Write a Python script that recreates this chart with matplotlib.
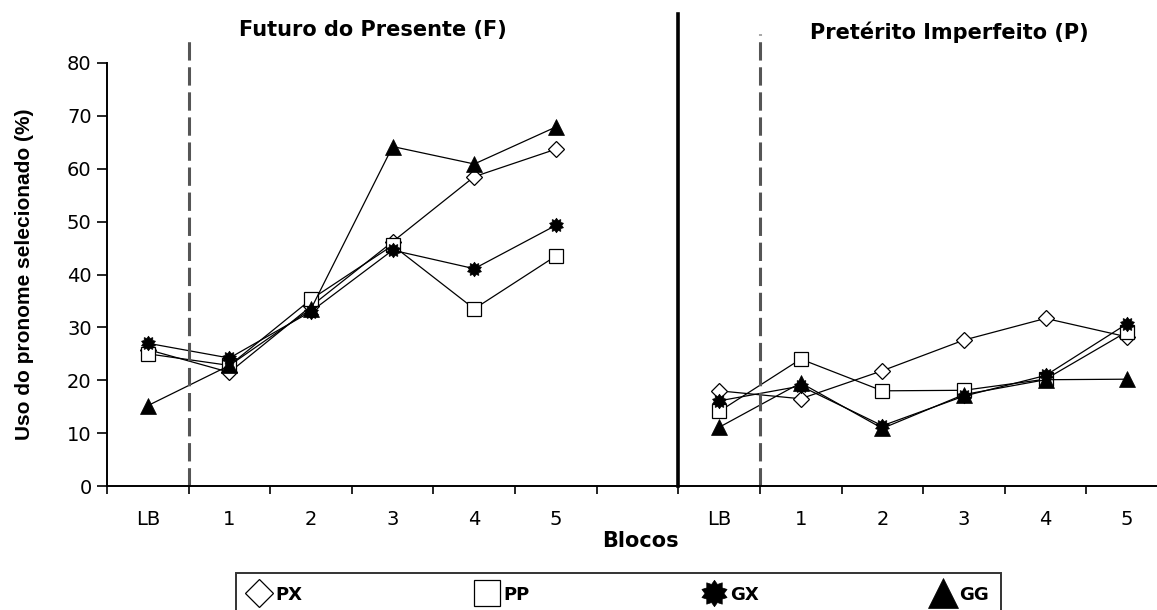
import numpy as np
import matplotlib
matplotlib.use("Agg")
import matplotlib.pyplot as plt
from matplotlib.path import Path
from matplotlib.lines import Line2D

# categories: left block (Futuro), one empty slot, right block (Pretérito)
cats = ["LB", "1", "2", "3", "4", "5", "", "LB", "1", "2", "3", "4", "5"]

# % use of the selected pronoun, Futuro do Presente (F)
px_f = [25.8, 21.5, 34.0, 46.2, 58.5, 63.7]
pp_f = [25.0, 22.8, 35.3, 45.5, 33.5, 43.5]
gx_f = [27.0, 24.2, 33.0, 44.6, 41.1, 49.3]
gg_f = [15.2, 22.8, 33.5, 64.2, 60.9, 67.9]

# Pretérito Imperfeito (P)
px_p = [18.0, 16.5, 21.8, 27.6, 31.7, 28.2]
pp_p = [14.1, 24.0, 18.0, 18.1, 20.2, 29.2]
gx_p = [16.1, 18.9, 11.4, 17.0, 20.9, 30.7]
gg_p = [11.1, 19.5, 10.9, 17.3, 20.1, 20.2]

series = {"PX": (px_f, px_p), "PP": (pp_f, pp_p), "GX": (gx_f, gx_p), "GG": (gg_f, gg_p)}

star = Path.unit_regular_star(10, 0.72)
styles = {
    "PX": dict(marker="D", ms=8.5, mfc="white", mec="black", mew=0.9),
    "PP": dict(marker="s", ms=9.5, mfc="white", mec="black", mew=0.9),
    "GX": dict(marker=star, ms=10.5, mfc="black", mec="black", mew=0.5),
    "GG": dict(marker="^", ms=12, mfc="black", mec="black", mew=0.5),
}
legend_ms = {"PX": 14, "PP": 19, "GX": 19, "GG": 22}

W, H = 1157, 610
fig = plt.figure(figsize=(W / 100, H / 100), dpi=100)
ax = fig.add_axes([107 / W, 1 - 486 / H, (1168 - 107) / W, (486 - 63) / H])

x = np.arange(len(cats))
for name in ["PX", "PP", "GX", "GG"]:
    left, right = series[name]
    y = list(left) + [np.nan] + list(right)
    ax.plot(x, y, color="black", lw=0.9, label=name, **styles[name])

ax.set_xlim(-0.5, len(cats) - 0.5)
ax.set_ylim(0, 80)

# separators
ax.plot([6.5, 6.5], [0, 89.2], color="black", lw=2.6, clip_on=False)
ax.plot([0.5, 0.5], [0, 84.4], color="#555555", lw=2.2, ls=(0, (6, 2.2)), clip_on=False)
ax.plot([7.5, 7.5], [0, 85.4], color="#555555", lw=2.2, ls=(0, (6, 2.2)), clip_on=False)

for s in ["top", "right"]:
    ax.spines[s].set_visible(False)
for s in ["left", "bottom"]:
    ax.spines[s].set_linewidth(1.4)

ax.set_yticks(range(0, 81, 10))
ax.tick_params(axis="y", direction="out", length=7, width=1.2, labelsize=14, pad=4)
ax.set_xticks(np.arange(-0.5, len(cats), 1.0))
ax.set_xticklabels([])
ax.tick_params(axis="x", which="major", direction="out", length=6, width=1.2)
ax.set_xticks(x, minor=True)
ax.set_xticklabels(cats, minor=True)
ax.tick_params(axis="x", which="minor", length=0, labelsize=14, pad=17)

ax.set_ylabel("Uso do pronome selecionado (%)", fontsize=15, fontweight="bold",
              family=["Liberation Sans", "DejaVu Sans"])
ax.yaxis.set_label_coords(-73 / (1168 - 107), 0.5)

fig.text(373 / W, 1 - 30 / H, "Futuro do Presente (F)", fontsize=15,
         fontweight="bold", ha="center", va="center")
fig.text(949 / W, 1 - 32 / H, "Pretérito Imperfeito (P)", fontsize=15,
         fontweight="bold", ha="center", va="center")
fig.text(640 / W, 1 - 541 / H, "Blocos", fontsize=15, fontweight="bold",
         ha="center", va="center")

handles = []
for name in ["PX", "PP", "GX", "GG"]:
    st = dict(styles[name])
    st["ms"] = legend_ms[name]
    handles.append(Line2D([], [], ls="none", **st))
leg = fig.legend(handles, ["PX", "PP", "GX", "GG"], loc="upper left",
                 bbox_to_anchor=(236 / W, 1 - 573 / H), ncol=4, frameon=True,
                 fancybox=False, edgecolor="black", handlelength=1.2,
                 handletextpad=0.3, columnspacing=9.6, borderpad=0.7,
                 borderaxespad=0, prop=dict(size=13, weight="bold"))
leg.get_frame().set_linewidth(1.4)

fig.savefig("out.png", dpi=100)
